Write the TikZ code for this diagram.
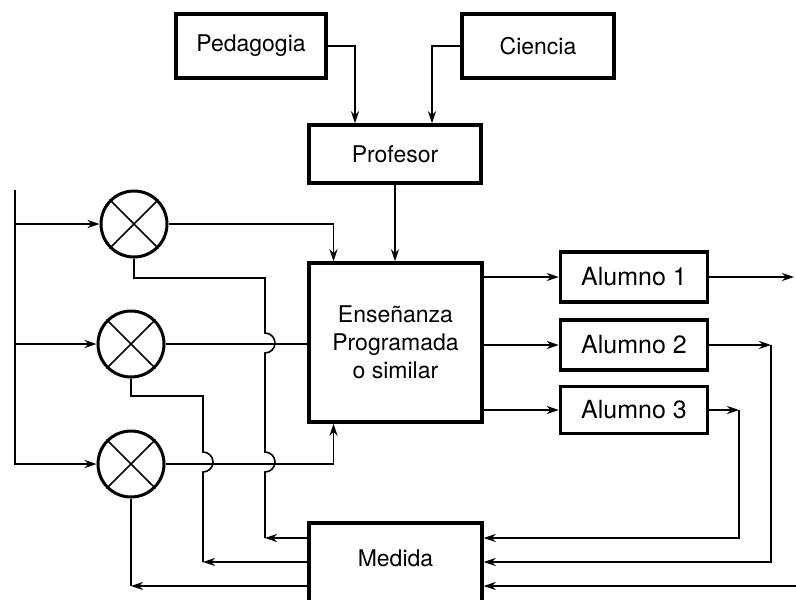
\documentclass[tikz,border=0pt]{standalone}
\usepackage{fontspec}
\setmainfont{TeX Gyre Heros}
\usetikzlibrary{arrows.meta}
\begin{document}
\begin{tikzpicture}[x=1pt, y=-1pt,
    >={Stealth[length=12pt,width=8pt]},
    line width=1.6pt,
    box/.style={draw, line width=3.5pt, align=center, inner sep=0pt,
      font=\fontsize{23}{28}\selectfont},
    alumno/.style={box, minimum width=147pt, font=\fontsize{25}{28}\selectfont},
    mult/.style={circle, draw, line width=3pt, minimum size=66pt, inner sep=0pt}]
  \useasboundingbox (0,0) rectangle (796,600);
  \clip (0,0) rectangle (796,600);

  \node[box, minimum width=150pt, minimum height=64pt] (Ped) at (251,46) {Pedagogia};
  \node[box, minimum width=152pt, minimum height=64pt] (Cie) at (538,46) {Ciencia};
  \node[box, minimum width=172pt, minimum height=58pt] (Prof) at (395,154) {Profesor};
  \node[box, minimum width=173pt, minimum height=159pt] (Ens) at (395.5,342.5) {Enseñanza\\Programada\\o similar};
  \node[alumno, minimum height=50pt] (A1) at (634,277) {Alumno 1};
  \node[alumno, minimum height=50pt] (A2) at (634,345) {Alumno 2};
  \node[alumno, minimum height=47pt] (A3) at (634,410) {Alumno 3};
  \node[box, minimum width=173pt, minimum height=84pt, text depth=14pt] (Med) at (395.5,565) {Medida};
  \node[mult] (M1) at (134,224) {};
  \node[mult] (M2) at (131,344) {};
  \node[mult] (M3) at (131,464) {};
  \draw (M1.45) -- (M1.225) (M1.135) -- (M1.315);
  \draw (M2.45) -- (M2.225) (M2.135) -- (M2.315);
  \draw (M3.45) -- (M3.225) (M3.135) -- (M3.315);

  \draw[->] (Ped.east) -| ([xshift=-40pt]Prof.north);
  \draw[->] (Cie.west) -| ([xshift=37pt]Prof.north);
  \draw[->] (Prof.south) -- (Prof.south |- Ens.north);

  \coordinate (In) at (15,190);
  \draw[->] (In) |- (M3.west);
  \draw[->] (In |- M1.west) -- (M1.west);
  \draw[->] (In |- M2.west) -- (M2.west);

  \draw[->] (M1.east) -| ([xshift=-62pt]Ens.north);
  \draw (M2.east) -- (M2.east -| Ens.west);
  \draw[->] (M3.east) -| ([xshift=-62pt]Ens.south);

  \draw[->] (A1.west -| Ens.east) -- (A1.west);
  \draw[->] (A2.west -| Ens.east) -- (A2.west);
  \draw[->] (A3.west -| Ens.east) -- (A3.west);

  \coordinate (Out) at (794,277);
  \coordinate (R1) at (796,586);
  \coordinate (R2) at (771,562);
  \coordinate (R3) at (739,538);
  \draw[->] (A1.east) -- (Out);
  \draw[->] (A2.east) -- (A2.east -| R2);
  \draw[->] (A2.east -| R2) |- (R2 -| Med.east);
  \draw[->] (A3.east) -- (A3.east -| R3);
  \draw[->] (A3.east -| R3) |- (R3 -| Med.east);
  \draw[->] (R1) -- (R1 -| Med.east);

  \coordinate (L1) at (265,538);
  \coordinate (L2) at (203,562);
  \coordinate (L3) at (M3.south |- 0,586);
  \draw[->] (L1 -| Med.west) -- (L1);
  \draw[->] (L2 -| Med.west) -- (L2);
  \draw[->] (L3 -| Med.west) -- (L3);
  \draw (M1.south) |- (265,278) -- (265,333) arc[start angle=90, end angle=-90, radius=10pt]
    -- (265,452) arc[start angle=90, end angle=-90, radius=10pt] -- (L1);
  \draw (M2.south) |- (203,396) -- (203,452) arc[start angle=90, end angle=-90, radius=10pt] -- (L2);
  \draw (M3.south) -- (L3);
\end{tikzpicture}
\end{document}
